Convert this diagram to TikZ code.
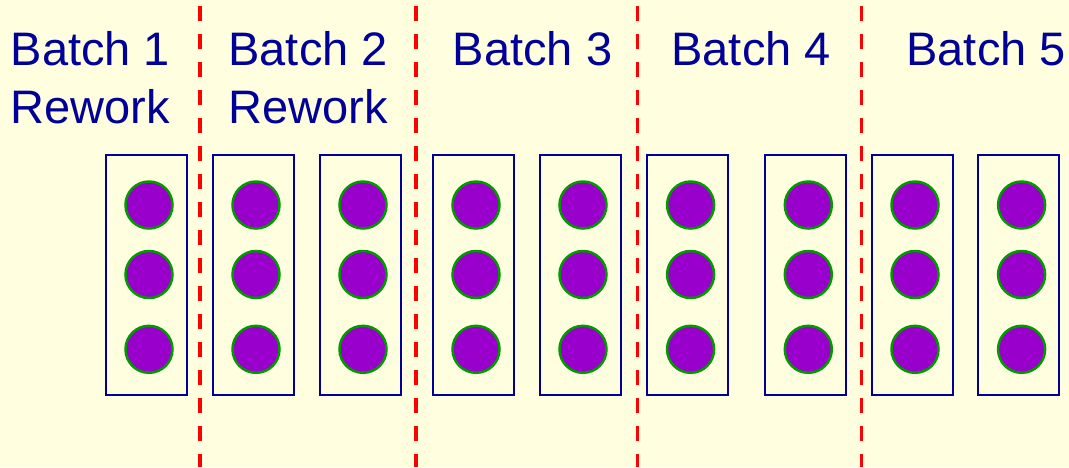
\documentclass[tikz,border=0pt]{standalone}
\usepackage{fontspec}
\setmainfont{Liberation Sans}
\definecolor{bg}{HTML}{FFFFE0}
\definecolor{navy}{HTML}{000099}
\definecolor{purp}{HTML}{9900CC}
\definecolor{grn}{HTML}{009900}
\definecolor{red}{HTML}{FF0000}
\tikzset{
  lbl/.style={anchor=base west, inner sep=0pt, text=navy, align=left, font=\fontsize{47}{57.6}\selectfont},
  tray/.style={draw=navy, line width=2pt, rectangle, minimum width=81pt, minimum height=240.5pt, inner sep=0pt},
  part/.style={draw=grn, fill=purp, line width=2.5pt, circle, minimum size=47pt, inner sep=0pt},
  divider/.style={draw=red, line width=3.5pt, dash pattern=on 15pt off 13pt},
}
\begin{document}
\begin{tikzpicture}[x=1pt,y=-1pt]
\fill[bg] (0,0) rectangle (1069,467);
\useasboundingbox (0,0) rectangle (1069,467);
% dividers
\foreach \i/\x in {1/200,2/416,3/637.3,4/861.5}{
  \coordinate (dt\i) at (\x,5.7);
  \coordinate (db\i) at (\x,467);
  \draw[divider] (dt\i) -- (db\i);
}
% labels (base anchor of a two-line node is its last line)
\node[lbl] (b1) at (10.6,123.3) {Batch 1\\Rework};
\node[lbl] (b2) at (228.3,123.3) {Batch 2\\Rework};
\node[lbl] (b3) at (452.6,65.7) {Batch 3};
\node[lbl] (b4) at (671.3,65.7) {Batch 4};
\node[lbl] (b5) at (906.3,65.7) {Batch 5};
% trays
\foreach \i/\l in {1/105.7,2/212.7,3/319.7,4/432.7,5/539.7,6/647.3,7/765,8/871.7,9/978.3}{
  \node[tray] (t\i) at (\l+40.5,274.8) {};
  \node[part] (p\i a) at (\l+43.3,205) {};
  \node[part] (p\i b) at (\l+43.3,274.5) {};
  \node[part] (p\i c) at (\l+43.3,349.3) {};
}
\end{tikzpicture}
\end{document}
